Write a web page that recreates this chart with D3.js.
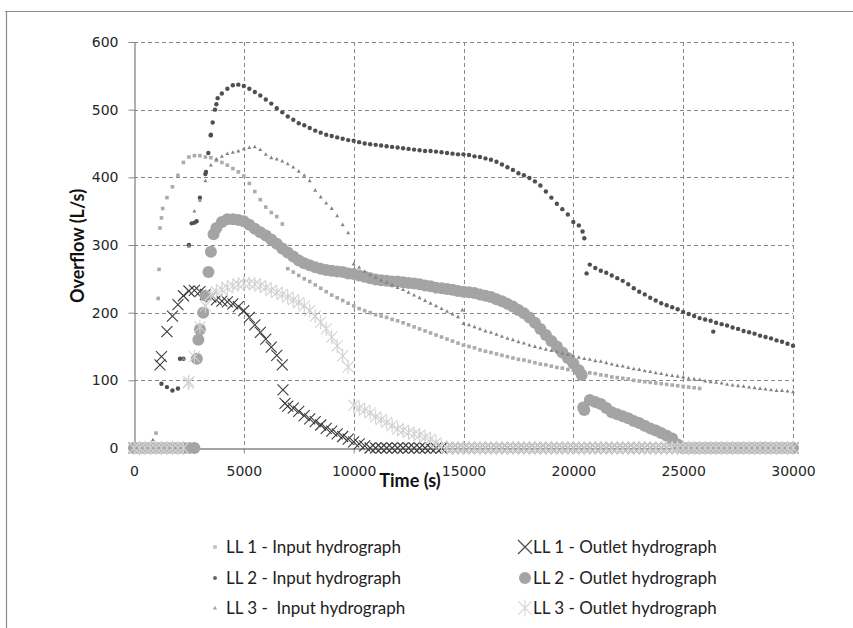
<!DOCTYPE html>
<html>
<head>
<meta charset="utf-8">
<script src="https://cdn.jsdelivr.net/npm/d3@7"></script>
<style>
  body { margin: 0; background: #fff; }
  svg { display: block; }
</style>
</head>
<body>
<div id="chart"></div>
<script>
// time stamps (s), one row = 2000 s
const times = [
  0, 250, 500, 750, 1000, 1250, 1500, 1750,
  2000, 2250, 2500, 2750, 3000, 3250, 3500, 3750,
  4000, 4250, 4500, 4750, 5000, 5250, 5500, 5750,
  6000, 6250, 6500, 6750, 7000, 7250, 7500, 7750,
  8000, 8250, 8500, 8750, 9000, 9250, 9500, 9750,
  10000, 10250, 10500, 10750, 11000, 11250, 11500, 11750,
  12000, 12250, 12500, 12750, 13000, 13250, 13500, 13750,
  14000, 14250, 14500, 14750, 15000, 15250, 15500, 15750,
  16000, 16250, 16500, 16750, 17000, 17250, 17500, 17750,
  18000, 18250, 18500, 18750, 19000, 19250, 19500, 19750,
  20000, 20250, 20500, 20750, 21000, 21250, 21500, 21750,
  22000, 22250, 22500, 22750, 23000, 23250, 23500, 23750,
  24000, 24250, 24500, 24750, 25000, 25250, 25500, 25750,
  26000, 26250, 26500, 26750, 27000, 27250, 27500, 27750,
  28000, 28250, 28500, 28750, 29000, 29250, 29500, 29750,
  30000
];

// overflow (L/s) per series, aligned with times; null = no point
const ll1Input = [
  0, 0, 0, 0, 22, 340, 370, 386,
  403, 422, 430, 432, 432, 430, 429, 425,
  422, 418, 413, 408, 402, 391, 379, 367,
  356, 348, 342, 331, 265, 260, 255, 250,
  246, 241, 236, 231, 226, 222, 218, 214,
  210, 206, 203, 200, 197, 195, 193, 190,
  188, 185, 182, 179, 176, 173, 170, 167,
  164, 161, 158, 155, 152, 150, 148, 145,
  143, 141, 139, 137, 135, 133, 131, 130,
  128, 126, 124, 123, 121, 119, 118, 116,
  115, 114, 112, 111, 110, 108, 107, 105,
  104, 103, 102, 100, 99, 98, 97, 96,
  95, 94, 93, 92, 91, 90, 89, 88,
  null, null, null, null, null, null, null, null,
  null, null, null, null, null, null, null, null,
  null
];
const ll2Input = [
  0, 0, 0, 0, 0, 95, 90, 85,
  88, 132, 300, 333, 370, 405, 463, 508,
  524, 531, 536, 537, 535, 531, 526, 521,
  515, 509, 502, 496, 490, 485, 480, 477,
  473, 469, 466, 463, 461, 459, 457, 455,
  454, 452, 450, 449, 448, 447, 446, 445,
  444, 443, 442, 441, 440, 439, 439, 438,
  437, 436, 435, 434, 434, 433, 431, 430,
  428, 426, 423, 419, 415, 411, 406, 403,
  399, 394, 388, 379, 370, 361, 353, 345,
  334, 329, 310, 271, 266, 262, 259, 255,
  251, 247, 242, 236, 231, 227, 222, 218,
  214, 211, 208, 205, 201, 198, 195, 192,
  190, 188, 185, 183, 181, 178, 176, 173,
  171, 169, 166, 164, 162, 159, 157, 154,
  151
];
const ll3Input = [
  0, 0, 0, 0, 0, 0, 0, 0,
  0, 132, 298, 350, 366, 395, 418, 427,
  431, 435, 437, 439, 442, 444, 445, 441,
  434, 429, 427, 424, 420, 415, 409, 403,
  395, 381, 371, 362, 354, 343, 330, 318,
  272, 267, 261, 256, 252, 248, 245, 241,
  237, 234, 230, 226, 222, 218, 214, 210,
  206, 202, 198, 194, 184, 182, 179, 176,
  173, 171, 168, 165, 162, 160, 157, 155,
  152, 150, 148, 146, 144, 142, 140, 138,
  136, 134, 132, 131, 129, 128, 126, 124,
  122, 121, 119, 117, 116, 114, 113, 111,
  110, 108, 107, 106, 105, 103, 102, 101,
  99, 98, 97, 96, 94, 93, 92, 91,
  90, 89, 88, 87, 86, 85, 85, 84,
  83
];
const ll1Outlet = [
  0, 0, 0, 0, 0, 135, 172, 195,
  212, 225, 232, 233, 231, 227, 223, 219,
  217, 216, 213, 209, 203, 193, 182, 171,
  161, 149, 137, 123, 62, 59, 54, 48,
  43, 39, 34, 29, 25, 21, 17, 13,
  9, 6, 3, 0, 0, 0, 0, 0,
  0, 0, 0, 0, 0, 0, 0, 0,
  0, 0, 0, 0, 0, 0, 0, 0,
  0, 0, 0, 0, 0, 0, 0, 0,
  0, 0, 0, 0, 0, 0, 0, 0,
  0, 0, 0, 0, 0, 0, 0, 0,
  0, 0, 0, 0, 0, 0, 0, 0,
  0, 0, 0, 0, 0, 0, 0, 0,
  0, 0, 0, 0, 0, 0, 0, 0,
  0, 0, 0, 0, 0, 0, 0, 0,
  0
];
const ll2Outlet = [
  0, 0, 0, 0, 0, 0, 0, 0,
  0, 0, 0, 0, 175, 225, 290, 325,
  334, 338, 338, 337, 335, 330, 324, 319,
  314, 308, 302, 295, 289, 283, 277, 273,
  270, 267, 265, 263, 262, 261, 260, 258,
  257, 255, 253, 251, 249, 248, 247, 246,
  246, 245, 244, 243, 242, 240, 239, 237,
  236, 235, 234, 232, 231, 230, 229, 227,
  225, 223, 220, 217, 213, 209, 204, 199,
  193, 185, 176, 167, 158, 150, 141, 133,
  125, 115, 56, 71, 68, 65, 59, 53,
  50, 47, 44, 40, 37, 33, 29, 26,
  22, 18, 14, 5, 0, 0, 0, 0,
  0, 0, 0, 0, 0, 0, 0, 0,
  0, 0, 0, 0, 0, 0, 0, 0,
  0
];
const ll3Outlet = [
  0, 0, 0, 0, 0, 0, 0, 0,
  0, 0, 98, 135, 179, 210, 227, 231,
  234, 237, 240, 242, 243, 243, 242, 240,
  237, 233, 230, 227, 223, 219, 215, 210,
  203, 195, 186, 176, 164, 151, 136, 120,
  63, 59, 56, 52, 46, 42, 38, 33,
  28, 26, 23, 21, 19, 16, 13, 8,
  3, 0, 0, 0, 0, 0, 0, 0,
  0, 0, 0, 0, 0, 0, 0, 0,
  0, 0, 0, 0, 0, 0, 0, 0,
  0, 0, 0, 0, 0, 0, 0, 0,
  0, 0, 0, 0, 0, 0, 0, 0,
  0, 0, 0, 0, 0, 0, 0, 0,
  0, 0, 0, 0, 0, 0, 0, 0,
  0, 0, 0, 0, 0, 0, 0, 0,
  0
];

// off-grid points [time, overflow]
const ll1InputExtra = [[1100, 221], [1140, 264], [1183, 325], [1305, 354]];
const ll2InputExtra = [[2094, 132], [2625, 332], [2852, 335], [3277, 408], [3384, 436],
  [3490, 462], [3581, 481], [3687, 500], [3808, 517], [20420, 320], [20603, 258], [26370, 172]];
const ll3InputExtra = [[860, 12], [14950, 204]];
const ll1OutletExtra = [[1183, 123], [6780, 86], [6873, 66]];
const ll2OutletExtra = [[2860, 132], [2930, 160], [3150, 200], [3390, 260], [3620, 316],
  [20380, 108], [20450, 60]];
const ll3OutletExtra = [[2473, 96]];

const seriesNames = [
  "LL 1 - Input hydrograph", "LL 1 - Outlet hydrograph",
  "LL 2 - Input hydrograph", "LL 2 - Outlet hydrograph",
  "LL 3 -  Input hydrograph", "LL 3 - Outlet hydrograph"
];

const xTicks = [0, 5000, 10000, 15000, 20000, 25000, 30000];
const yTicks = [0, 100, 200, 300, 400, 500, 600];

const width = 853;
const height = 628;
const plot = { left: 134, right: 793, top: 42, bottom: 448 };

const svg = d3.select("#chart").append("svg")
  .attr("width", width)
  .attr("height", height);

// chart area frame (only top and left edges are visible in the crop)
svg.append("path")
  .attr("d", "M5,11.5H853M6.5,11V628")
  .attr("fill", "none")
  .attr("stroke", "#8a8a8a")
  .attr("stroke-width", 1.2);

const x = d3.scaleLinear().domain([0, 30000]).range([plot.left, plot.right]);
const y = d3.scaleLinear().domain([0, 600]).range([plot.bottom, plot.top]);

// grid
svg.append("g")
  .selectAll("line")
  .data(yTicks.filter(d => d > 0))
  .join("line")
  .attr("x1", plot.left).attr("x2", plot.right)
  .attr("y1", d => Math.round(y(d)) + 0.5).attr("y2", d => Math.round(y(d)) + 0.5)
  .attr("stroke", "#888")
  .attr("stroke-dasharray", "4,3");

svg.append("g")
  .selectAll("line")
  .data(xTicks.filter(d => d > 0))
  .join("line")
  .attr("x1", d => Math.round(x(d)) + 0.5).attr("x2", d => Math.round(x(d)) + 0.5)
  .attr("y1", plot.top).attr("y2", plot.bottom)
  .attr("stroke", "#888")
  .attr("stroke-dasharray", "4,3");

// axes
const yAxis = svg.append("g")
  .attr("transform", `translate(${plot.left + 0.5},0)`)
  .call(d3.axisLeft(y).tickValues(yTicks).tickSize(6).tickSizeOuter(0).tickPadding(10));
const xAxis = svg.append("g")
  .attr("transform", `translate(0,${plot.bottom + 0.5})`)
  .call(d3.axisBottom(x).tickValues(xTicks).tickFormat(d3.format("d")).tickSize(5).tickSizeOuter(0).tickPadding(13));

[yAxis, xAxis].forEach(g => {
  g.select(".domain").attr("stroke", "#868686").attr("stroke-width", 1.3);
  g.selectAll(".tick line").attr("stroke", "#868686");
  g.selectAll(".tick text")
    .attr("font-family", "DejaVu Sans, Verdana, sans-serif")
    .attr("font-size", 14)
    .attr("fill", "#262626");
});

// axis titles
svg.append("text")
  .attr("x", 410).attr("y", 487)
  .attr("text-anchor", "middle")
  .attr("font-family", "Lato, sans-serif")
  .attr("font-weight", "bold")
  .attr("font-size", 18)
  .attr("fill", "#111")
  .text("Time (s)");

svg.append("text")
  .attr("transform", "translate(84,246) rotate(-90)")
  .attr("text-anchor", "middle")
  .attr("font-family", "Lato, sans-serif")
  .attr("font-weight", "bold")
  .attr("font-size", 18)
  .attr("fill", "#111")
  .text("Overflow (L/s)");

// marker shapes
function markerPath(type, s) {
  switch (type) {
    case "square": return `M${-s},${-s}H${s}V${s}H${-s}Z`;
    case "triangle": return `M0,${-s * 1.2}L${s * 1.1},${s * 0.8}L${-s * 1.1},${s * 0.8}Z`;
    case "circle": return d3.symbol(d3.symbolCircle, Math.PI * s * s)();
    case "x": return `M${-s},${-s}L${s},${s}M${-s},${s}L${s},${-s}`;
    case "star": return `M${-s},${-s}L${s},${s}M${-s},${s}L${s},${-s}M0,${-s * 1.3}V${s * 1.3}`;
  }
}

const seriesStyle = [
  { values: ll1Input, extra: ll1InputExtra, type: "square", size: 1.8, color: "#ababab", stroke: false },
  { values: ll1Outlet, extra: ll1OutletExtra, type: "x", size: 5.5, color: "#3c3c3c", stroke: true, sw: 1.1 },
  { values: ll2Input, extra: ll2InputExtra, type: "circle", size: 2.2, color: "#4f4f4f", stroke: false },
  { values: ll2Outlet, extra: ll2OutletExtra, type: "circle", size: 6, color: "#a4a4a4", stroke: false },
  { values: ll3Input, extra: ll3InputExtra, type: "triangle", size: 1.8, color: "#848484", stroke: false },
  { values: ll3Outlet, extra: ll3OutletExtra, type: "star", size: 5.5, color: "#d2d2d2", stroke: true, sw: 1.1 }
];

seriesStyle.forEach((s, i) => {
  const pts = times.map((t, k) => [t, s.values[k]])
    .filter(p => p[1] !== null)
    .concat(s.extra);
  svg.append("g")
    .attr("class", "series-" + i)
    .selectAll("path")
    .data(pts)
    .join("path")
    .attr("transform", d => `translate(${x(d[0])},${y(d[1])})`)
    .attr("d", markerPath(s.type, s.size))
    .attr("fill", s.stroke ? "none" : s.color)
    .attr("stroke", s.stroke ? s.color : "none")
    .attr("stroke-width", s.sw || 0);
});

// legend (two columns, row-major like the original)
const legendRows = [547, 578, 608];
const legendCols = [{ mx: 215, tx: 226 }, { mx: 525, tx: 533 }];
const legendStyle = [
  { type: "square", size: 1.8, color: "#c0c0c0" },
  { type: "x", size: 7, color: "#4a4a4a", sw: 1.2 },
  { type: "circle", size: 2, color: "#666" },
  { type: "circle", size: 6, color: "#a4a4a4" },
  { type: "triangle", size: 1.8, color: "#a0a0a0" },
  { type: "star", size: 6.5, color: "#d8d8d8", sw: 1.2 }
];

const legend = svg.append("g");
seriesNames.forEach((name, i) => {
  const col = legendCols[i % 2];
  const ry = legendRows[Math.floor(i / 2)];
  const st = legendStyle[i];
  legend.append("path")
    .attr("transform", `translate(${col.mx},${ry})`)
    .attr("d", markerPath(st.type, st.size))
    .attr("fill", st.sw ? "none" : st.color)
    .attr("stroke", st.sw ? st.color : "none")
    .attr("stroke-width", st.sw || 0);
  legend.append("text")
    .attr("x", col.tx).attr("y", ry + 6)
    .attr("font-family", "Lato, sans-serif")
    .attr("font-size", 17)
    .attr("fill", "#222")
    .style("white-space", "pre")
    .text(name);
});
</script>
</body>
</html>
